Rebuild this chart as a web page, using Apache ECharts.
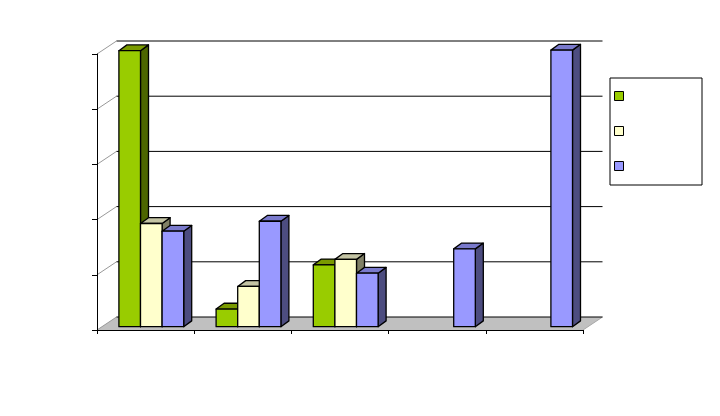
<!DOCTYPE html>
<html>
<head>
<meta charset="utf-8">
<style>html,body{margin:0;padding:0;background:#fff}#c{width:720px;height:416px}</style>
<script src="https://cdn.jsdelivr.net/npm/echarts@6/dist/echarts.min.js"></script>
</head>
<body>
<div id="c"></div>
<script>
const categories = ['1', '2', '3', '4', '5'];
const seriesNames = ['A', 'B', 'C'];
const valuesA = [5.0, 0.32, 1.12, null, null];
const valuesB = [1.87, 0.73, 1.22, null, null];
const valuesC = [1.73, 1.91, 0.97, 1.41, 5.01];
const yTicks = [0, 1, 2, 3, 4, 5];

const faceColors = [
  { front: '#99cc00', side: '#4d6600', top: '#7a9a00' },
  { front: '#ffffcc', side: '#808066', top: '#c4c4a4' },
  { front: '#9999ff', side: '#4d4d80', top: '#7a7acc' }
];
const WALL_DX = 19.5, WALL_DY = 13;
const BAR_W = 21.6, BAR_DX = 8, BAR_DY = 5.8, BASE_DX = 5.7, BASE_DY = 3.3;

function barRenderer(si) {
  const c = faceColors[si];
  return function (params, api) {
    const p = api.coord([api.value(0), api.value(1)]);
    const x0 = p[0] + BASE_DX + (si - 1.5) * BAR_W;
    const x1 = x0 + BAR_W;
    const yTop = p[1] - BASE_DY;
    const yBase = api.coord([api.value(0), 0])[1] - BASE_DY;
    const st = (fill) => ({ fill: fill, stroke: '#000', lineWidth: 1.3, lineJoin: 'round' });
    return {
      type: 'group',
      children: [
        { type: 'polygon', shape: { points: [[x1, yTop], [x1 + BAR_DX, yTop - BAR_DY], [x1 + BAR_DX, yBase - BAR_DY], [x1, yBase]] }, style: st(c.side) },
        { type: 'polygon', shape: { points: [[x0, yTop], [x0 + BAR_DX, yTop - BAR_DY], [x1 + BAR_DX, yTop - BAR_DY], [x1, yTop]] }, style: st(c.top) },
        { type: 'polygon', shape: { points: [[x0, yTop], [x1, yTop], [x1, yBase], [x0, yBase]] }, style: st(c.front) }
      ]
    };
  };
}

function wallRenderer(params, api) {
  const t = api.value(1);
  const band = api.size([1, 0])[0];
  const first = api.coord([0, t]);
  const last = api.coord([categories.length - 1, t]);
  const xL = first[0] - band / 2, xR = last[0] + band / 2, y = first[1];
  const children = [];
  if (t === 0) {
    children.push({ type: 'polygon', shape: { points: [[xL, y], [xL + WALL_DX, y - WALL_DY], [xR + WALL_DX, y - WALL_DY], [xR, y]] }, style: { fill: '#c0c0c0', stroke: 'none' } });
    children.push({ type: 'line', shape: { x1: xR, y1: y, x2: xR + WALL_DX, y2: y - WALL_DY }, style: { stroke: '#a8a8a8', lineWidth: 1 } });
  }
  children.push({ type: 'line', shape: { x1: xL, y1: y, x2: xL + WALL_DX, y2: y - WALL_DY }, style: { stroke: '#999', lineWidth: 1 } });
  children.push({ type: 'line', shape: { x1: xL + WALL_DX, y1: y - WALL_DY, x2: xR + WALL_DX, y2: y - WALL_DY }, style: { stroke: '#000', lineWidth: 1 } });
  return { type: 'group', children: children };
}

const toData = (vals) => vals.map((v, i) => [i, v]).filter(d => d[1] !== null);
const allValues = [valuesA, valuesB, valuesC];

const chart = echarts.init(document.getElementById('c'), null, { renderer: 'canvas' });
chart.setOption({
  animation: false,
  backgroundColor: '#fff',
  grid: { left: 97, right: 137, top: 54, bottom: 86 },
  xAxis: {
    type: 'category', data: categories, z: 10,
    axisLine: { lineStyle: { color: '#000', width: 1 } },
    axisTick: { show: true, length: 4, lineStyle: { color: '#000' } },
    axisLabel: { show: false }, splitLine: { show: false }
  },
  yAxis: {
    type: 'value', min: 0, max: 5, interval: 1, z: 10,
    axisLine: { show: true, lineStyle: { color: '#000', width: 1 } },
    axisTick: { show: true, length: 5, lineStyle: { color: '#000' } },
    axisLabel: { show: false }, splitLine: { show: false }
  },
  legend: {
    show: true, data: seriesNames, orient: 'vertical', left: 610, top: 78,
    padding: [13, 78, 14, 4], itemGap: 25, itemWidth: 9, itemHeight: 9, icon: 'rect',
    borderColor: '#000', borderWidth: 1, backgroundColor: '#fff',
    selectedMode: false,
    itemStyle: { borderColor: '#000', borderWidth: 1 },
    formatter: () => '', textStyle: { fontSize: 1, padding: 0 }
  },
  tooltip: { show: false },
  series: [
    { type: 'custom', name: 'walls', z: 1, silent: true, data: yTicks.map(t => [0, t]), renderItem: wallRenderer, encode: { x: 0, y: 1 } }
  ].concat(seriesNames.map((n, si) => ({
    type: 'custom', name: n, z: 3 + si, silent: true,
    itemStyle: { color: faceColors[si].front },
    data: toData(allValues[si]), renderItem: barRenderer(si), encode: { x: 0, y: 1 }
  })))
});
</script>
</body>
</html>
